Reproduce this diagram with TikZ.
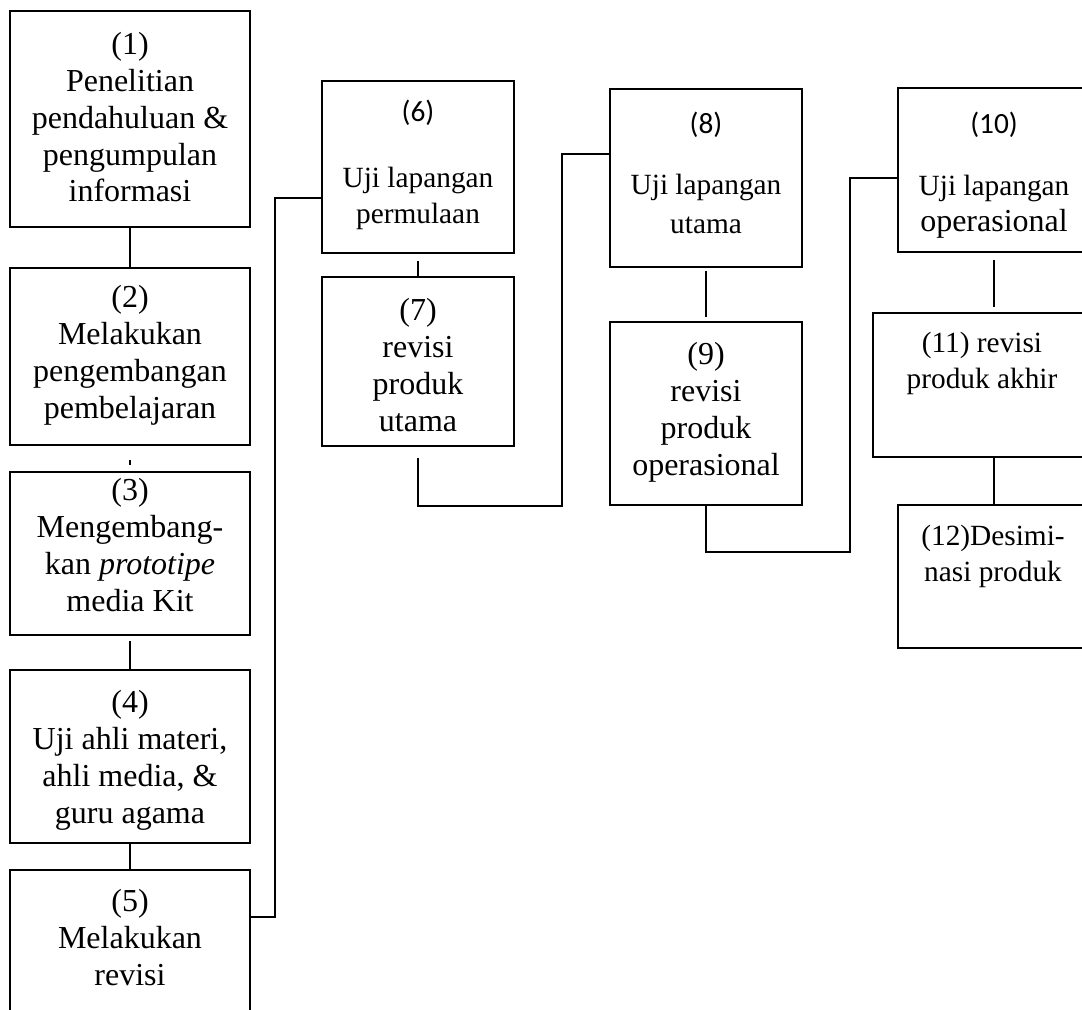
\documentclass[tikz,border=0pt]{standalone}
\usepackage{fontspec}
\setmainfont{Liberation Serif}
\newfontfamily\calibri{Carlito}
\usepackage{tikz}
\tikzset{% boxes, texts and links of the flow
    stepbox/.style={draw, line width=0.75pt, inner sep=0pt},
    steptext/.style={align=center, anchor=north, inner sep=0pt,
        font=\fontsize{12}{13.8}\selectfont},
    steptextsmall/.style={steptext, font=\fontsize{11}{13.2}\selectfont},
    link/.style={line width=0.75pt}
}
\newcommand{\pxu}{0.375pt}

\begin{document}
\begin{tikzpicture}[x=0.375pt, y=-0.375pt]
    \clip (0,0) rectangle (1082,1009);

    % left column
    \node[stepbox, minimum width=240*\pxu, minimum height=216*\pxu] (s1) at (130,119) {};
    \node[stepbox, minimum width=240*\pxu, minimum height=177*\pxu] (s2) at (130,356.5) {};
    \node[stepbox, minimum width=240*\pxu, minimum height=163*\pxu] (s3) at (130,553.5) {};
    \node[stepbox, minimum width=240*\pxu, minimum height=173*\pxu] (s4) at (130,756.5) {};
    \node[stepbox, minimum width=240*\pxu, minimum height=160*\pxu] (s5) at (130,950) {};

    % second and third column
    \node[stepbox, minimum width=192*\pxu, minimum height=172*\pxu] (s6) at (418,167) {};
    \node[stepbox, minimum width=192*\pxu, minimum height=169*\pxu] (s7) at (418,361.5) {};
    \node[stepbox, minimum width=192*\pxu, minimum height=178*\pxu] (s8) at (706,178) {};
    \node[stepbox, minimum width=192*\pxu, minimum height=183*\pxu] (s9) at (706,413.5) {};

    % last column, cut at the right edge
    \node[stepbox, minimum width=192*\pxu, minimum height=164*\pxu] (s10) at (994,170) {};
    \node[stepbox, minimum width=218*\pxu, minimum height=144*\pxu] (s11) at (982,385) {};
    \node[stepbox, minimum width=192*\pxu, minimum height=143*\pxu] (s12) at (994,576.5) {};

    % texts
    \node[steptext] (t1) at (130,32) {(1)\\Penelitian\\pendahuluan \&\\pengumpulan\\informasi};
    \node[steptext] (t2) at (130,285) {(2)\\Melakukan\\pengembangan\\pembelajaran};
    \node[steptext] (t3) at (130,478) {(3)\\Mengembang-\\kan \textit{prototipe}\\media Kit};
    \node[steptext] (t4) at (130,690) {(4)\\Uji ahli materi,\\ahli media, \&\\guru agama};
    \node[steptext] (t5) at (130,889) {(5)\\Melakukan\\revisi};
    \node[steptextsmall] (t6) at (418,100) {{\calibri (6)}\\[11.5pt]Uji lapangan\\permulaan};
    \node[steptext] (t7) at (418,298) {(7)\\revisi\\produk\\utama};
    \node[steptextsmall] (t8) at (706,112) {{\calibri (8)}\\[9.5pt]Uji lapangan\\[1.5pt]utama};
    \node[steptext] (t9) at (706,342) {(9)\\revisi\\produk\\operasional};
    \node[steptextsmall] (t10) at (994,112) {{\calibri (10)}\\[10pt]Uji lapangan\\{\fontsize{12}{13.8}\selectfont operasional}};
    \node[steptextsmall] (t11) at (982,332) {(11) revisi\\produk akhir};
    \node[steptextsmall] (t12) at (993,525) {(12)Desimi-\\nasi produk};

    % links
    \draw[link] (s1) -- (s2);
    \draw[link, shorten <=5.25pt, shorten >=2.25pt] (s2) -- (s3);
    \draw[link, shorten <=2pt] (s3) -- (s4);
    \draw[link] (s4) -- (s5);
    \draw[link] ([yshift=12.4pt]s5.east) -- ++(24,0) |- ([yshift=-11.6pt]s6.west);
    \draw[link, shorten <=2.6pt] (s6) -- (s7);
    \draw[link, shorten <=4.1pt] (s7.south) -- ++(0,59) -- ++(144,0) |- ([yshift=9pt]s8.west);
    \draw[link, shorten <=1pt, shorten >=1.5pt] (s8) -- (s9);
    \draw[link] (s9.south) -- ++(0,46) -- ++(144,0) |- ([yshift=-3pt]s10.west);
    \draw[link, shorten <=2.6pt, shorten >=1.9pt] (s10.south) -- (s10.south |- s11.north);
    \draw[link] (s11.south -| s12.north) -- (s12.north);
\end{tikzpicture}
\end{document}
